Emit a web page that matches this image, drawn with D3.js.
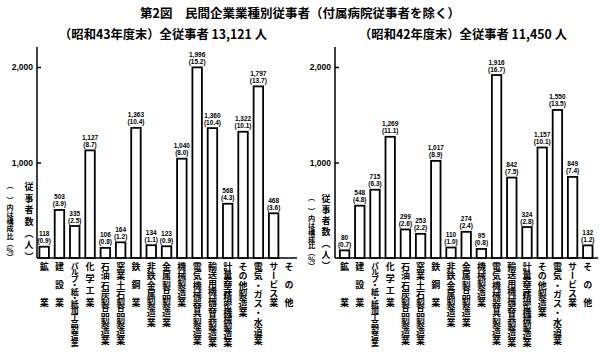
<!DOCTYPE html>
<html><head><meta charset="utf-8">
<script src="https://cdn.jsdelivr.net/npm/d3@7"></script>
<style>
body{margin:0;background:#fff;}
svg{display:block;}
text{fill:#000;}
</style></head><body>
<svg id="chart" width="600" height="355"></svg>
<script>
// ---- data ----
const categories = ["鉱業","建設業","パルプ・紙・紙加工品製造業","化学工業","石油石炭製品製造業","窯業土石製品製造業","鉄鋼業","非鉄金属製造業","金属製品製造業","機械製造業","電気機械器具製造業","輸送用機械器具製造業","計量器等精密機械製造業","その他製造業","電気・ガス・水道業","サービス業","その他"];
const workers1968 = [118,503,335,1127,106,164,1363,134,123,1040,1996,1360,568,1322,1797,468,null];
const share1968   = [0.9,3.9,2.5,8.7,0.8,1.2,10.4,1.1,0.9,8.0,15.2,10.4,4.3,10.1,13.7,3.6,null];
const workers1967 = [80,548,715,1269,299,253,1017,110,274,95,1916,842,324,1157,1550,849,132];
const share1967   = [0.7,4.8,6.3,11.1,2.6,2.2,8.9,1.0,2.4,0.8,16.7,7.5,2.8,10.1,13.5,7.4,1.2];
const yTicks = [1000,2000];
const titleText = "第2図　民間企業業種別従事者（付属病院従事者を除く）";
const subtitles = ["（昭和43年度末）全従事者 13,121 人","（昭和42年度末）全従事者 11,450 人"];
const yLabelMain = "従事者数（人）";
const yLabelSub = "（　）内は構成比（％）";

// ---- layout ----
const JP = '"Noto Sans CJK JP","Noto Sans CJK SC",sans-serif';
const NUM = '"Liberation Sans","DejaVu Sans",sans-serif';
const svg = d3.select("#chart");
const y = d3.scaleLinear().domain([0,2000]).range([258,67]);
const baseY = y(0);

svg.append("text").attr("x",300).attr("y",18).attr("text-anchor","middle")
  .style("font-family",JP).style("font-weight","bold").style("font-size","12.5px")
  .text(titleText);

const panels = [
  {values:workers1968, shares:share1968, subtitle:subtitles[0], axisX:37, bandStart:36.5, step:15.3, xEnd:297, subX:163, labTop:182, labBottom:261, labX1:29, labX2:10},
  {values:workers1967, shares:share1967, subtitle:subtitles[1], axisX:335, bandStart:337, step:15.2, xEnd:598, subX:463, labTop:194, labBottom:270, labX1:326, labX2:311.5}
];

function fitVertical(sel, extent){
  sel.each(function(){
    const t = d3.select(this);
    const n = Array.from(t.text()).length;
    const fs = parseFloat(t.style("font-size"));
    const len = n*fs;
    const ls = n>1 ? (extent - len)/(n-1) : 0;
    t.style("letter-spacing", ls+"px");
  });
}

panels.forEach(p=>{
  const g = svg.append("g");
  const x = d3.scaleBand().domain(categories)
    .range([p.bandStart, p.bandStart + categories.length*p.step])
    .paddingInner(0.38).paddingOuter(0.19);

  g.append("text").attr("x",p.subX).attr("y",38.5).attr("text-anchor","middle")
    .style("font-family",JP).style("font-weight","bold").style("font-size","12.3px")
    .text(p.subtitle);

  // axes lines
  g.append("line").attr("x1",p.axisX).attr("x2",p.axisX).attr("y1",47).attr("y2",baseY)
    .attr("stroke","#000").attr("stroke-width",1.5);
  g.append("line").attr("x1",p.axisX).attr("x2",p.xEnd).attr("y1",baseY).attr("y2",baseY)
    .attr("stroke","#000").attr("stroke-width",1.5);

  // y axis ticks
  const ya = g.append("g").attr("transform",`translate(${p.axisX},0)`)
    .call(d3.axisLeft(y).tickValues(yTicks).tickSize(-4).tickPadding(4).tickFormat(d3.format(",")));
  ya.select(".domain").remove();
  ya.selectAll("line").attr("stroke","#000").attr("stroke-width",1.5);
  ya.selectAll("text").style("font-family",NUM).style("font-weight","bold").style("font-size","8.5px");

  // bars
  const data = categories.map((c,i)=>({c, v:p.values[i], s:p.shares[i]})).filter(d=>d.v!=null);
  g.selectAll("rect.bar").data(data).join("rect").attr("class","bar")
    .attr("x",d=>x(d.c)).attr("width",x.bandwidth())
    .attr("y",d=>y(d.v)).attr("height",d=>baseY-y(d.v))
    .attr("fill","#fff").attr("stroke","#000").attr("stroke-width",1.8);

  // value labels
  g.selectAll("text.val").data(data).join("text").attr("class","val")
    .attr("x",d=>x(d.c)+x.bandwidth()/2).attr("y",d=>y(d.v)-10.5)
    .attr("text-anchor","middle")
    .style("font-family",NUM).style("font-weight","bold").style("font-size","6.5px")
    .text(d=>d3.format(",")(d.v));
  g.selectAll("text.pct").data(data).join("text").attr("class","pct")
    .attr("x",d=>x(d.c)+x.bandwidth()/2).attr("y",d=>y(d.v)-3.5)
    .attr("text-anchor","middle")
    .style("font-family",NUM).style("font-weight","bold").style("font-size","6.5px")
    .text(d=>"("+d3.format(".1f")(d.s)+")");

  // category axis (vertical labels)
  const xa = g.append("g").attr("transform",`translate(0,${baseY})`)
    .call(d3.axisBottom(x).tickSize(0).tickPadding(0));
  xa.select(".domain").remove();
  xa.selectAll("text")
    .attr("y",4).attr("dy",null).attr("text-anchor","start")
    .style("writing-mode","vertical-rl")
    .style("font-family",JP).style("font-weight","bold")
    .style("font-size",d=>{
      const n = Array.from(d).length;
      const pitch = n<=5 ? 35/(n-1) : Math.min(9.3, 76/(n-1));
      return Math.min(9, pitch+1.6)+"px";
    })
    .each(function(d){
      const n = Array.from(d).length;
      const extent = n<=5 ? 45 : Math.min(9.3*(n-1)+9, 85);
      fitVertical(d3.select(this), extent);
    });

  // y-axis titles (vertical)
  const t1 = g.append("text").attr("x",p.labX1).attr("y",p.labTop)
    .style("writing-mode","vertical-rl").style("font-family",JP).style("font-weight","bold").style("font-size","9px")
    .text(yLabelMain);
  fitVertical(t1, p.labBottom-p.labTop);
  const t2 = g.append("text").attr("x",p.labX2).attr("y",p.labTop)
    .style("writing-mode","vertical-rl").style("font-family",JP).style("font-weight","bold").style("font-size","7.2px")
    .text(yLabelSub);
  fitVertical(t2, p.labBottom-p.labTop);
});
</script>
</body></html>
